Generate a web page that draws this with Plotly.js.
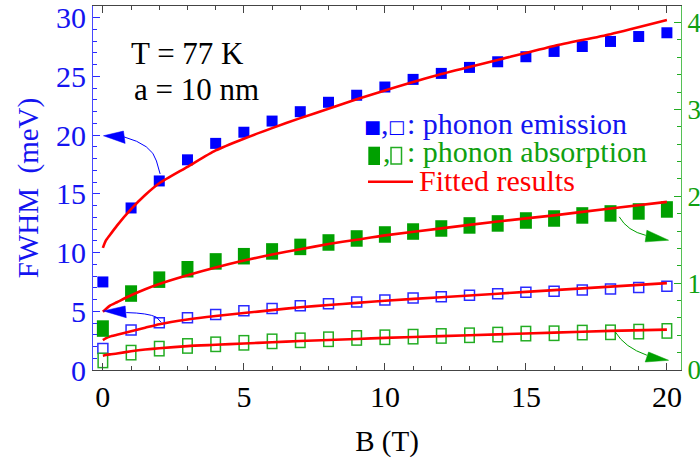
<!DOCTYPE html>
<html><head><meta charset="utf-8">
<script src="https://cdn.plot.ly/plotly-3.0.1.min.js"></script>
<style>html,body{margin:0;padding:0;background:#fff}</style>
</head><body><div id="chart" style="width:700px;height:462px"></div>
<script>
// ---- data ----
const B = [0,1,2,3,4,5,6,7,8,9,10,11,12,13,14,15,16,17,18,19,20];
const emissionFilled = [7.5,13.8,16.1,17.9,19.3,20.25,21.2,22.0,22.8,23.4,24.1,24.75,25.26,25.77,26.25,26.68,27.13,27.55,27.98,28.4,28.72];
const emissionOpen = [1.84,3.4,4.02,4.45,4.73,5.05,5.24,5.47,5.64,5.8,5.97,6.14,6.23,6.37,6.49,6.63,6.71,6.82,6.9,7.02,7.14];
const absorptionFilled = [0.477,0.88,1.04,1.16,1.25,1.31,1.365,1.417,1.468,1.514,1.56,1.594,1.629,1.664,1.687,1.721,1.744,1.779,1.802,1.825,1.848];
const absorptionOpen = [0.11,0.2,0.246,0.277,0.296,0.313,0.33,0.342,0.354,0.369,0.377,0.384,0.392,0.40,0.408,0.419,0.423,0.431,0.434,0.442,0.45];

const fitB = [0,0.1,0.25,0.5,1,1.5,2,3,4,5,6,7,8,9,10,12,14,16,18,20];
const fitEmissionFilled = [10.4,11.0,11.5,12.3,13.7,14.9,15.9,17.3,18.7,19.7,20.6,21.45,22.25,23.05,23.8,25.2,26.4,27.6,28.6,29.8];
const fitEmissionOpen = [2.55,2.7,2.85,3.0,3.3,3.6,3.9,4.3,4.6,4.85,5.1,5.35,5.53,5.72,5.9,6.2,6.5,6.8,7.1,7.4];
const fitAbsorptionFilled = [0.67,0.70,0.74,0.78,0.86,0.93,0.99,1.09,1.18,1.26,1.33,1.39,1.45,1.50,1.55,1.63,1.71,1.78,1.86,1.935];
const fitAbsorptionOpen = [0.165,0.172,0.18,0.19,0.215,0.235,0.25,0.275,0.29,0.305,0.32,0.333,0.345,0.357,0.37,0.39,0.41,0.43,0.45,0.465];

const xTickVals = [0,5,10,15,20];
const yLeftTickVals = [0,5,10,15,20,25,30];
const yRightTickVals = [0,1,2,3,4];

// ---- styling ----
const FONT = '"Liberation Serif", "Times New Roman", Times, serif';
const SYM_FONT = '"DejaVu Sans", sans-serif';
const BLUE = '#0000ff', BLUE_TXT = '#1414f0', BLUE_OPEN = '#2a2aff';
const GREEN = '#00a000', GREEN_TXT = '#10a010', GREEN_OPEN = '#22ac22';
const RED = '#ff0000';

const fitLine = {color: RED, width: 2.6, shape: 'spline', smoothing: 0.6};

const traces = [
  {x: B, y: emissionFilled, yaxis: 'y', mode: 'markers', hoverinfo: 'skip',
   marker: {symbol: 'square', size: 11, color: BLUE, line: {width: 0}}},
  {x: B, y: emissionOpen, yaxis: 'y', mode: 'markers', hoverinfo: 'skip',
   marker: {symbol: 'square-open', size: 10, color: BLUE_OPEN, line: {width: 1.5, color: BLUE_OPEN}}},
  {x: fitB, y: fitEmissionFilled, yaxis: 'y', mode: 'lines', hoverinfo: 'skip', line: fitLine},
  {x: fitB, y: fitEmissionOpen, yaxis: 'y', mode: 'lines', hoverinfo: 'skip', line: fitLine},
  // absorption (right axis): tall rectangles built from vertical line markers
  {x: B, y: absorptionFilled, yaxis: 'y2', mode: 'markers', hoverinfo: 'skip',
   marker: {symbol: 'line-ns', size: 11.8, color: GREEN, line: {width: 12, color: GREEN}}},
  {x: B, y: absorptionOpen, yaxis: 'y2', mode: 'markers', hoverinfo: 'skip',
   marker: {symbol: 'line-ns', size: 11.3, color: GREEN_OPEN, line: {width: 11, color: GREEN_OPEN}}},
  {x: B, y: absorptionOpen, yaxis: 'y2', mode: 'markers', hoverinfo: 'skip',
   marker: {symbol: 'line-ns', size: 9.2, color: '#ffffff', line: {width: 8, color: '#ffffff'}}},
  {x: fitB, y: fitAbsorptionFilled, yaxis: 'y2', mode: 'lines', hoverinfo: 'skip', line: fitLine},
  {x: fitB, y: fitAbsorptionOpen, yaxis: 'y2', mode: 'lines', hoverinfo: 'skip', line: fitLine}
];

// helper: paper coordinates from picture pixels of the plot area (93..681, 6..370)
const px = v => (v - 93) / 588;
const py = v => (370 - v) / 364;

const shapes = [
  {type: 'path', xref: 'x', yref: 'y', path: 'M0.75,19.85 Q1.75,19.2 1.9,17.8 L2.03,16.7', line: {color: BLUE, width: 1}},
  {type: 'path', xref: 'x', yref: 'y', path: 'M0.02,19.95 L0.73,20.35 L0.79,19.3 Z', fillcolor: BLUE, line: {color: BLUE, width: 0.5}},
  {type: 'path', xref: 'x', yref: 'y', path: 'M0.83,4.89 Q1.6,4.85 1.9,4.5 L2.07,4.05', line: {color: BLUE, width: 1}},
  {type: 'path', xref: 'x', yref: 'y', path: 'M0.02,5.03 L0.79,5.45 L0.83,4.45 Z', fillcolor: BLUE, line: {color: BLUE, width: 0.5}},
  {type: 'path', xref: 'x', yref: 'y2', path: 'M18.31,1.763 Q18.6,1.6 19.25,1.55', line: {color: GREEN, width: 1}},
  {type: 'path', xref: 'x', yref: 'y2', path: 'M20.06,1.494 L19.29,1.609 L19.23,1.475 Z', fillcolor: GREEN, line: {color: GREEN, width: 0.5}},
  {type: 'path', xref: 'x', yref: 'y2', path: 'M18.17,0.438 Q18.5,0.26 19.29,0.17', line: {color: GREEN, width: 1}},
  {type: 'path', xref: 'x', yref: 'y2', path: 'M20.06,0.112 L19.35,0.207 L19.23,0.092 Z', fillcolor: GREEN, line: {color: GREEN, width: 0.5}},
  // legend symbols for the absorption line (tall rectangles) and the red sample line
  {type: 'rect', xref: 'paper', yref: 'paper', x0: px(368.3), x1: px(380), y0: py(165), y1: py(146.7), fillcolor: GREEN, line: {width: 0}},
  {type: 'rect', xref: 'paper', yref: 'paper', x0: px(391), x1: px(401.5), y0: py(164), y1: py(147.5), fillcolor: 'rgba(0,0,0,0)', line: {color: GREEN_OPEN, width: 1.5}},
  {type: 'line', xref: 'paper', yref: 'paper', x0: px(368), x1: px(413), y0: py(181.7), y1: py(181.7), line: {color: RED, width: 2.5}}
];

const ann = (text, x, y, anchor, font) => ({text, x: px(x), y: py(y), xref: 'paper', yref: 'paper',
  xanchor: anchor, yanchor: 'middle', showarrow: false, font});

const annotations = [
  ann('T = 77 K', 129, 53.5, 'left', {family: FONT, size: 31, color: '#000'}),
  ann('a = 10 nm', 132, 89.5, 'left', {family: FONT, size: 31, color: '#000'}),
  // legend line 1
  ann('■', 372.5, 126.5, 'center', {family: SYM_FONT, size: 18, color: BLUE}),
  ann(',', 378.5, 123.2, 'left', {family: FONT, size: 30, color: BLUE_TXT}),
  ann('□', 396, 126.5, 'center', {family: SYM_FONT, size: 18, color: BLUE}),
  ann(': phonon emission', 405, 123.2, 'left', {family: FONT, size: 30, color: BLUE_TXT}),
  // legend line 2 (symbols drawn as rectangles)
  ann(',', 380.5, 151.4, 'left', {family: FONT, size: 30, color: GREEN_TXT}),
  ann(': phonon absorption', 405, 151.4, 'left', {family: FONT, size: 30, color: GREEN_TXT}),
  // legend line 3
  ann('Fitted results', 417, 180.6, 'left', {family: FONT, size: 30, color: RED})
];

const layout = {
  width: 700, height: 462,
  margin: {l: 93, r: 19, t: 6, b: 92, pad: 0},
  paper_bgcolor: '#ffffff', plot_bgcolor: '#ffffff',
  showlegend: false,
  font: {family: FONT, size: 29, color: '#000'},
  xaxis: {
    range: [-0.35, 20.5], tickvals: xTickVals, ticktext: xTickVals.map(String),
    ticks: 'inside', ticklen: 7, tickwidth: 1, tickcolor: '#444',
    minor: {ticks: 'inside', ticklen: 4, dtick: 1, tick0: 0, tickcolor: '#444', tickwidth: 1},
    showline: true, linecolor: '#444', linewidth: 1, mirror: 'ticks',
    showgrid: false, zeroline: false,
    tickfont: {family: FONT, size: 30, color: '#000'},
    title: {text: 'B (T)', font: {family: FONT, size: 29, color: '#000'}, standoff: 18}
  },
  yaxis: {
    range: [0, 31.0], tickvals: yLeftTickVals, ticktext: yLeftTickVals.map(String),
    ticks: 'inside', ticklen: 7, tickwidth: 1, tickcolor: BLUE_OPEN,
    minor: {ticks: 'inside', ticklen: 4, dtick: 1, tick0: 0, tickcolor: BLUE_OPEN, tickwidth: 1},
    showline: true, linecolor: '#4848ff', linewidth: 1,
    showgrid: false, zeroline: false,
    tickfont: {family: FONT, size: 30, color: BLUE_TXT},
    title: {text: 'FWHM\u00a0 (meV)', font: {family: FONT, size: 29, color: BLUE_TXT}, standoff: 8}
  },
  yaxis2: {
    overlaying: 'y', side: 'right', anchor: 'x',
    range: [0, 4.19], tickvals: yRightTickVals, ticktext: yRightTickVals.map(String),
    ticks: 'inside', ticklen: 7, tickwidth: 1, tickcolor: GREEN_OPEN,
    minor: {ticks: 'inside', ticklen: 4, dtick: 0.2, tick0: 0, tickcolor: GREEN_OPEN, tickwidth: 1},
    showline: true, linecolor: '#55c055', linewidth: 1,
    showgrid: false, zeroline: false,
    ticklabelstandoff: 0,
    tickfont: {family: FONT, size: 27, color: GREEN_TXT}
  },
  shapes: shapes,
  annotations: annotations
};

Plotly.newPlot('chart', traces, layout, {staticPlot: true, displayModeBar: false});
</script>
</body></html>
